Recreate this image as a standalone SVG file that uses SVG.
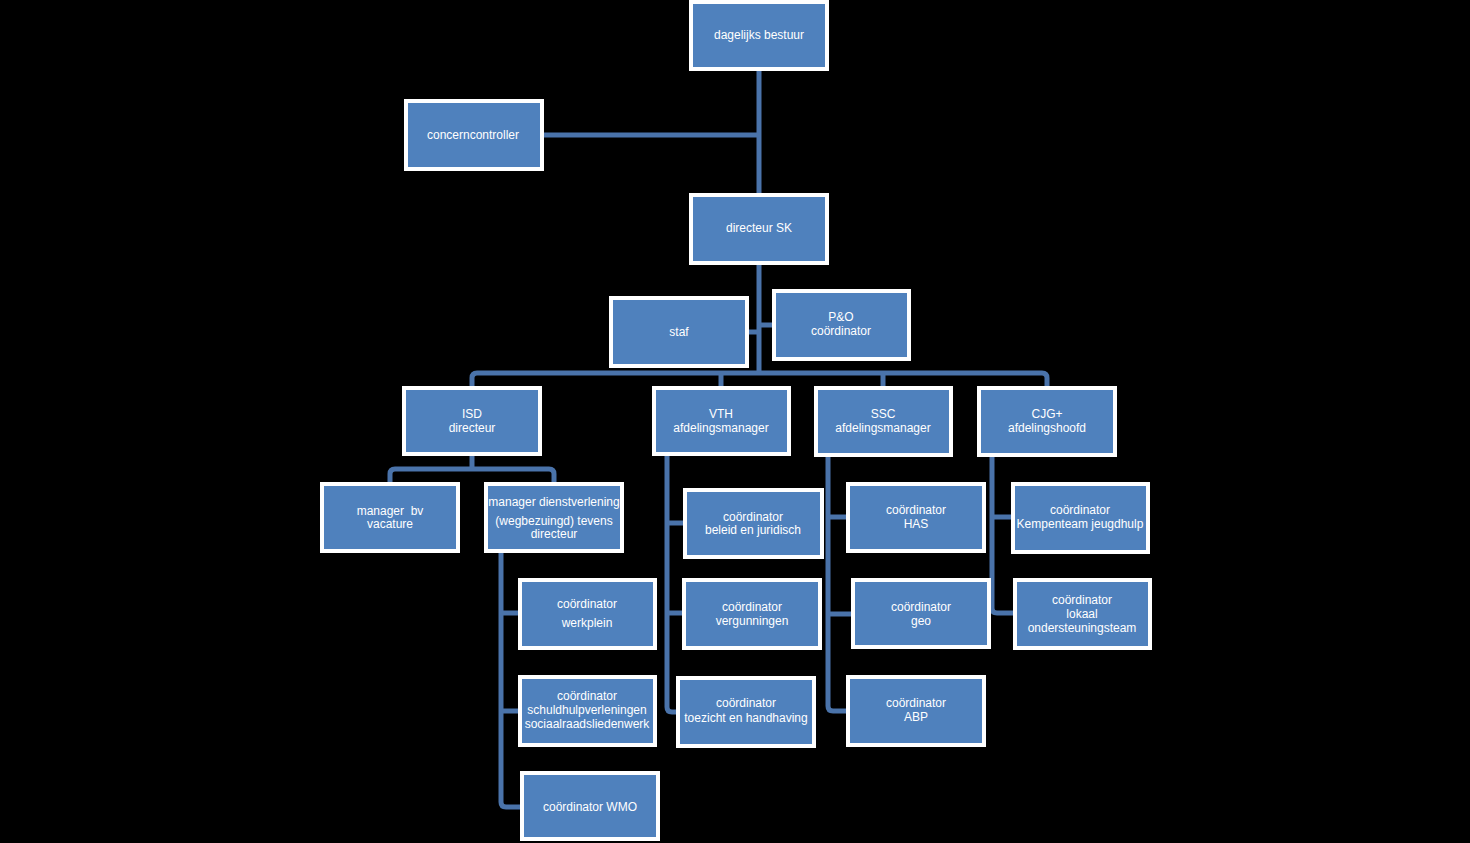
<svg xmlns="http://www.w3.org/2000/svg" width="1470" height="843" viewBox="0 0 1470 843">
<style>
.box{fill:#4F81BD;stroke:#FFFFFF;stroke-width:4}
.t{font-family:"Liberation Sans",Arial,sans-serif;font-size:12px;fill:#FFFFFF;text-anchor:middle;white-space:pre}
.c{fill:none;stroke:#4A73AA;stroke-width:5;stroke-linejoin:round}
</style>
<rect x="0" y="0" width="1470" height="843" fill="#000000"/>
<g id="connectors">
<path class="c" d="M759,71 V193"/>
<path class="c" d="M544,135 H759"/>
<path class="c" d="M759,265 V373"/>
<path class="c" d="M749,332 H759"/>
<path class="c" d="M759,325 H772"/>
<path class="c" d="M472,386 V378 Q472,373 477,373 H1042 Q1047,373 1047,378 V386"/>
<path class="c" d="M721,373 V386"/>
<path class="c" d="M883,373 V386"/>
<path class="c" d="M472,456 V469"/>
<path class="c" d="M390,482 V474 Q390,469 395,469 H549 Q554,469 554,474 V482"/>
<path class="c" d="M501,553 V802 Q501,807 506,807 H520"/>
<path class="c" d="M501,613 H518"/>
<path class="c" d="M501,711 H518"/>
<path class="c" d="M667,456 V707 Q667,712 672,712 H676"/>
<path class="c" d="M667,523 H683"/>
<path class="c" d="M667,613 H682"/>
<path class="c" d="M828,457 V706 Q828,711 833,711 H846"/>
<path class="c" d="M828,517 H846"/>
<path class="c" d="M828,614 H851"/>
<path class="c" d="M992,457 V608 Q992,613 997,613 H1013"/>
<path class="c" d="M992,517 H1011"/>
</g>
<g id="n-dagelijks-bestuur"><rect class="box" x="691" y="2" width="136" height="67"/><text class="t" x="759" y="39">dagelijks bestuur</text></g>
<g id="n-concerncontroller"><rect class="box" x="406" y="101" width="136" height="68"/><text class="t" x="473" y="139">concerncontroller</text></g>
<g id="n-directeur-sk"><rect class="box" x="691" y="195" width="136" height="68"/><text class="t" x="759" y="232">directeur SK</text></g>
<g id="n-staf"><rect class="box" x="611" y="298" width="136" height="68"/><text class="t" x="679" y="336">staf</text></g>
<g id="n-po"><rect class="box" x="774" y="291" width="135" height="68"/><text class="t" x="841" y="321">P&amp;O</text><text class="t" x="841" y="335">coördinator</text></g>
<g id="n-isd"><rect class="box" x="404" y="388" width="136" height="66"/><text class="t" x="472" y="418">ISD</text><text class="t" x="472" y="432">directeur</text></g>
<g id="n-vth"><rect class="box" x="654" y="388" width="135" height="66"/><text class="t" x="721" y="418">VTH</text><text class="t" x="721" y="432">afdelingsmanager</text></g>
<g id="n-ssc"><rect class="box" x="816" y="388" width="135" height="67"/><text class="t" x="883" y="418">SSC</text><text class="t" x="883" y="432">afdelingsmanager</text></g>
<g id="n-cjg"><rect class="box" x="979" y="388" width="136" height="67"/><text class="t" x="1047" y="418">CJG+</text><text class="t" x="1047" y="432">afdelingshoofd</text></g>
<g id="n-manager-bv"><rect class="box" x="322" y="484" width="136" height="67"/><text class="t" x="390" y="515">manager  bv</text><text class="t" x="390" y="528">vacature</text></g>
<g id="n-manager-dienstverlening"><rect class="box" x="486" y="484" width="136" height="67"/><text class="t" x="554" y="506">manager dienstverlening</text><text class="t" x="554" y="525">(wegbezuingd) tevens</text><text class="t" x="554" y="538">directeur</text></g>
<g id="n-werkplein"><rect class="box" x="520" y="580" width="135" height="68"/><text class="t" x="587" y="608">coördinator</text><text class="t" x="587" y="627">werkplein</text></g>
<g id="n-schuldhulp"><rect class="box" x="520" y="677" width="135" height="68"/><text class="t" x="587" y="700">coördinator</text><text class="t" x="587" y="714">schuldhulpverleningen</text><text class="t" x="587" y="728">sociaalraadsliedenwerk</text></g>
<g id="n-wmo"><rect class="box" x="522" y="773" width="136" height="66"/><text class="t" x="590" y="811">coördinator WMO</text></g>
<g id="n-beleid"><rect class="box" x="685" y="490" width="137" height="67"/><text class="t" x="753" y="521">coördinator</text><text class="t" x="753" y="534">beleid en juridisch</text></g>
<g id="n-vergunningen"><rect class="box" x="684" y="580" width="136" height="68"/><text class="t" x="752" y="611">coördinator</text><text class="t" x="752" y="625">vergunningen</text></g>
<g id="n-toezicht"><rect class="box" x="678" y="678" width="136" height="68"/><text class="t" x="746" y="707">coördinator</text><text class="t" x="746" y="722">toezicht en handhaving</text></g>
<g id="n-has"><rect class="box" x="848" y="484" width="136" height="67"/><text class="t" x="916" y="514">coördinator</text><text class="t" x="916" y="528">HAS</text></g>
<g id="n-geo"><rect class="box" x="853" y="580" width="136" height="67"/><text class="t" x="921" y="611">coördinator</text><text class="t" x="921" y="625">geo</text></g>
<g id="n-abp"><rect class="box" x="848" y="677" width="136" height="68"/><text class="t" x="916" y="707">coördinator</text><text class="t" x="916" y="721">ABP</text></g>
<g id="n-kempenteam"><rect class="box" x="1013" y="484" width="135" height="68"/><text class="t" x="1080" y="514">coördinator</text><text class="t" x="1080" y="528">Kempenteam jeugdhulp</text></g>
<g id="n-lokaal"><rect class="box" x="1015" y="580" width="135" height="68"/><text class="t" x="1082" y="604">coördinator</text><text class="t" x="1082" y="618">lokaal</text><text class="t" x="1082" y="632">ondersteuningsteam</text></g>
</svg>
